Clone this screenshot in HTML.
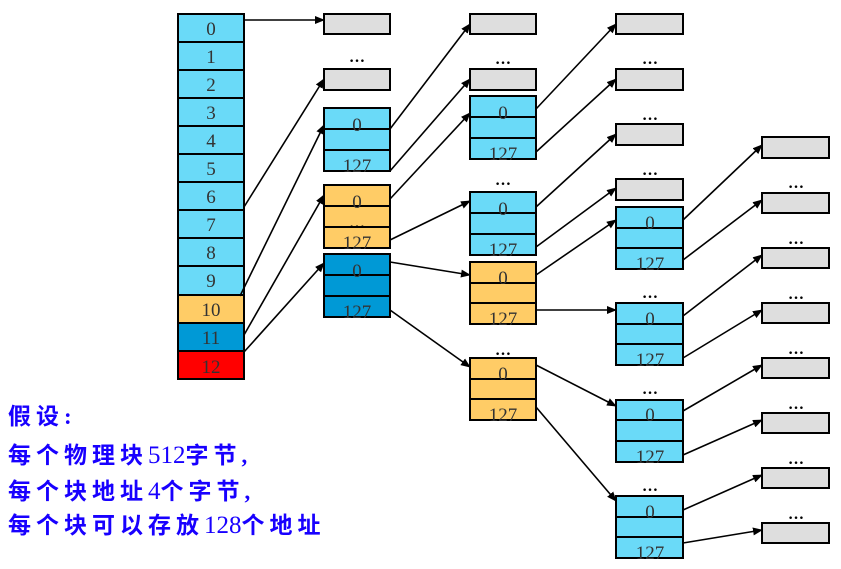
<!DOCTYPE html>
<html><head><meta charset="utf-8"><style>
html,body{margin:0;padding:0;background:#fff;}
svg{display:block}
.n{font-family:"Liberation Serif",serif;font-size:19px;fill:#333;text-anchor:middle}
.d{font-family:"Liberation Serif",serif;font-size:16px;fill:#000;text-anchor:middle;font-weight:bold}
.c{font-family:"Liberation Serif","Noto Sans CJK SC",sans-serif;font-size:23px;fill:#1800ff;font-weight:bold;letter-spacing:5px}
.c tspan{font-weight:normal;font-size:25px;letter-spacing:0}
</style></head><body>
<svg width="841" height="569" viewBox="0 0 841 569" xmlns="http://www.w3.org/2000/svg">
<defs><marker id="a" markerWidth="10" markerHeight="8" refX="9" refY="4" orient="auto" markerUnits="userSpaceOnUse"><path d="M0,0 L10,4 L0,8 z" fill="#000"/></marker></defs>
<g stroke="#000" stroke-width="2">
<rect x="178" y="14" width="66" height="281" fill="#6adaf8"/>
<rect x="178" y="295" width="66" height="28" fill="#ffcc66"/>
<rect x="178" y="323" width="66" height="28" fill="#0099d6"/>
<rect x="178" y="351" width="66" height="28" fill="#ff0000"/>
<path d="M178 42H244M178 70H244M178 98H244M178 126H244M178 154H244M178 182H244M178 210H244M178 238H244M178 266H244"/>
<g fill="#dedede">
<rect x="324" y="14" width="66" height="20"/><rect x="324" y="69" width="66" height="21"/>
<rect x="470" y="14" width="66" height="20"/><rect x="470" y="69" width="66" height="21"/>
<rect x="616" y="14" width="67" height="20"/><rect x="616" y="69" width="67" height="21"/>
<rect x="616" y="124" width="67" height="21"/><rect x="616" y="179" width="67" height="21"/>
<rect x="762" y="137" width="67" height="21"/><rect x="762" y="193" width="67" height="20"/>
<rect x="762" y="248" width="67" height="20"/><rect x="762" y="303" width="67" height="20"/>
<rect x="762" y="358" width="67" height="20"/><rect x="762" y="413" width="67" height="20"/>
<rect x="762" y="468" width="67" height="20"/><rect x="762" y="523" width="67" height="20"/>
</g>
</g>
<g stroke="#000" stroke-width="2">
<rect x="324" y="108" width="66" height="63" fill="#6adaf8"/><path d="M324 129H390M324 150H390"/>
<rect x="324" y="185" width="66" height="63" fill="#ffcc66"/><path d="M324 206H390M324 227H390"/>
<rect x="324" y="254" width="66" height="63" fill="#0099d6"/><path d="M324 275H390M324 296H390"/>
<rect x="470" y="96" width="66" height="63" fill="#6adaf8"/><path d="M470 117H536M470 138H536"/>
<rect x="470" y="192" width="66" height="63" fill="#6adaf8"/><path d="M470 213H536M470 234H536"/>
<rect x="470" y="262" width="66" height="62" fill="#ffcc66"/><path d="M470 283H536M470 303H536"/>
<rect x="470" y="358" width="66" height="62" fill="#ffcc66"/><path d="M470 379H536M470 399H536"/>
<rect x="616" y="207" width="67" height="62" fill="#6adaf8"/><path d="M616 228H683M616 248H683"/>
<rect x="616" y="303" width="67" height="62" fill="#6adaf8"/><path d="M616 324H683M616 344H683"/>
<rect x="616" y="400" width="67" height="62" fill="#6adaf8"/><path d="M616 420H683M616 441H683"/>
<rect x="616" y="496" width="67" height="62" fill="#6adaf8"/><path d="M616 517H683M616 537H683"/>
</g>
<g stroke="#000" stroke-width="1.6" fill="none" marker-end="url(#a)">
<path d="M244 20L324 20"/><path d="M244 207L324 79"/><path d="M240 296L324 125"/>
<path d="M244 335L324 195"/><path d="M244 352L324 263"/>
<path d="M390 129L470 24"/><path d="M390 171L470 79"/><path d="M390 199L470 113"/>
<path d="M390 240L470 201"/><path d="M390 262L470 275"/><path d="M390 310L470 367"/>
<path d="M536 109L616 24"/><path d="M536 152L616 79"/><path d="M536 207L616 134"/>
<path d="M536 247L616 188"/><path d="M536 275L616 220"/><path d="M536 310L616 310"/>
<path d="M536 365L616 406"/><path d="M536 407L616 501"/>
<path d="M683 220L762 145"/><path d="M683 260L762 200"/><path d="M683 316L762 255"/>
<path d="M683 358L762 310"/><path d="M683 411L762 365"/><path d="M683 455L762 420"/>
<path d="M683 510L762 475"/><path d="M683 543L762 530"/>
</g>
<g class="n">
<text x="211" y="35">0</text><text x="211" y="63">1</text><text x="211" y="91">2</text><text x="211" y="119">3</text>
<text x="211" y="147">4</text><text x="211" y="175">5</text><text x="211" y="203">6</text><text x="211" y="231">7</text>
<text x="211" y="259">8</text><text x="211" y="287">9</text><text x="211" y="316">10</text><text x="211" y="344">11</text>
<text x="211" y="373">12</text>
<text x="357" y="131">0</text><text x="357" y="172">127</text>
<text x="357" y="208">0</text><text x="357" y="249">127</text>
<text x="357" y="277">0</text><text x="357" y="318">127</text>
<text x="503" y="119">0</text><text x="503" y="160">127</text>
<text x="503" y="215">0</text><text x="503" y="256">127</text>
<text x="503" y="284">0</text><text x="503" y="325">127</text>
<text x="503" y="380">0</text><text x="503" y="421">127</text>
<text x="650" y="229">0</text><text x="650" y="270">127</text>
<text x="650" y="325">0</text><text x="650" y="366">127</text>
<text x="650" y="421">0</text><text x="650" y="463">127</text>
<text x="650" y="518">0</text><text x="650" y="559">127</text>
</g>
<g class="d">
<text x="357" y="62">…</text><text x="357" y="228">…</text>
<text x="503" y="64">…</text><text x="503" y="185">…</text><text x="503" y="355">…</text>
<text x="650" y="64">…</text><text x="650" y="120">…</text><text x="650" y="175">…</text>
<text x="650" y="298">…</text><text x="650" y="394">…</text><text x="650" y="491">…</text>
<text x="796" y="188">…</text><text x="796" y="244">…</text><text x="796" y="299">…</text>
<text x="796" y="354">…</text><text x="796" y="409">…</text><text x="796" y="464">…</text>
<text x="796" y="519">…</text>
</g>
<g class="c">
<text x="8" y="424">假设:</text>
<text x="8" y="463">每个物理块<tspan>512</tspan>字节,</text>
<text x="8" y="499">每个块地址<tspan>4</tspan>个字节,</text>
<text x="8" y="533">每个块可以存放<tspan>128</tspan>个地址</text>
</g>
</svg>
</body></html>
